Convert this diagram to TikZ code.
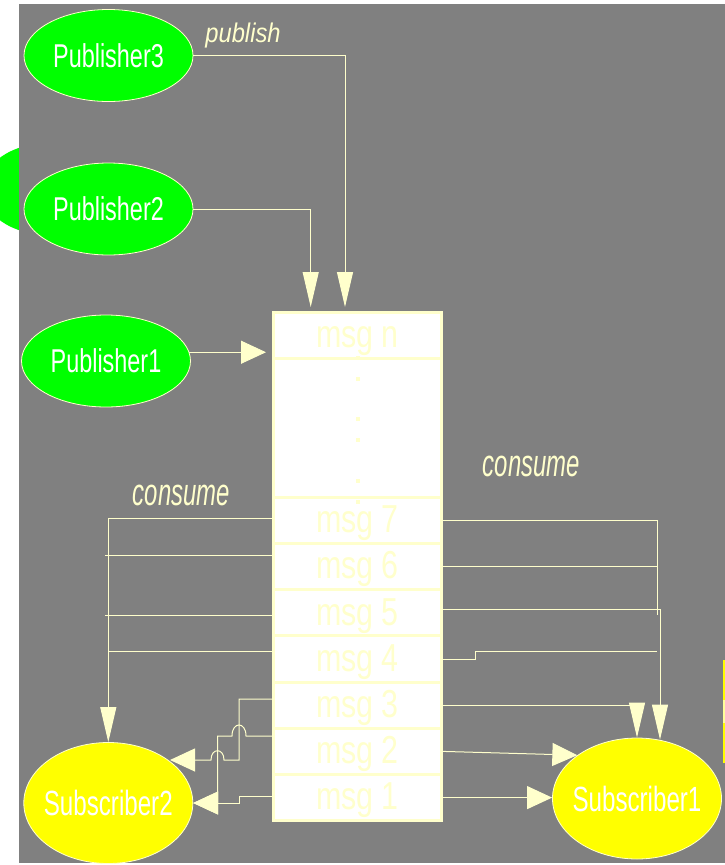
\documentclass[tikz,border=0pt]{standalone}
\usepackage{fontspec}
\setmainfont{Liberation Sans}
\usepackage{graphicx}
\usetikzlibrary{shapes.geometric,arrows.meta,calc}

\definecolor{bggray}{HTML}{808080}
\definecolor{pubgreen}{HTML}{00FF00}
\definecolor{subyellow}{HTML}{FFFF00}
\definecolor{cream}{HTML}{FFFFCC}
\definecolor{paleyellow}{HTML}{FFFF99}

% narrow, tall lettering: horizontal scale, size, text
\newcommand\lbltext[3]{\scalebox{#1}[1]{\fontsize{#2}{#2}\selectfont #3}}
% same, but taking no width, so an ellipse keeps its own size
\newcommand\ovaltext[3]{\makebox[0pt]{\lbltext{#1}{#2}{#3}}}

\begin{document}
\begin{tikzpicture}[x=1pt,y=-1pt,
  pub/.style={ellipse,fill=pubgreen,draw=cream,line width=0.8pt,
    minimum width=169pt,minimum height=92pt,inner sep=0pt,text=white},
  sub/.style={ellipse,fill=subyellow,draw=cream,line width=0.8pt,
    minimum width=169pt,minimum height=121pt,inner sep=0pt,text=white},
  cell/.style={rectangle,fill=white,draw=cream,line width=3pt,
    minimum width=168pt,minimum height=46.2pt,inner sep=0pt,text=cream,
    text height=30pt,text depth=5.4pt},
  flow/.style={draw=cream,line width=1pt},
  varr/.style={flow,-{Triangle[length=35pt,width=16pt]}},
  harr/.style={flow,-{Triangle[length=25pt,width=23pt]}},
  verb/.style={text=cream,anchor=base,inner sep=0pt,font=\itshape}
]
\useasboundingbox (0,0) rectangle (725,865);

% page, stray shapes at the edges, grey canvas
\fill[white] (0,0) rectangle (725,865);
\fill[pubgreen] (49,189) ellipse [x radius=67, y radius=46];
\fill[bggray] (19,4) rectangle (725,863);
\fill[subyellow] (722.5,660) rectangle (725,700);
\fill[paleyellow] (722.5,700) rectangle (725,723);
\fill[subyellow] (722.5,723) rectangle (725,763);

% publishers and subscribers
\node[pub] (p3) at (108.5,55.5) {\ovaltext{0.71}{33}{Publisher3}};
\node[pub] (p2) at (108.5,209) {\ovaltext{0.71}{33}{Publisher2}};
\node[pub] (p1) at (106,361) {\ovaltext{0.71}{33}{Publisher1}};
\node[sub] (s2) at (108.3,803) {\ovaltext{0.69}{35}{Subscriber2}};
\node[sub] (s1) at (637,798.5) {\ovaltext{0.69}{35}{Subscriber1}};

% message queue
\node[cell] (mn) at (357.5,335.6) {\lbltext{0.78}{39}{msg n}};
\node[cell,minimum height=138.6pt] (gap) at (357.5,428) {};
\node[cell] (m7) at (357.5,520.4) {\lbltext{0.78}{39}{msg 7}};
\node[cell] (m6) at (357.5,566.6) {\lbltext{0.78}{39}{msg 6}};
\node[cell] (m5) at (357.5,612.8) {\lbltext{0.78}{39}{msg 5}};
\node[cell] (m4) at (357.5,659.0) {\lbltext{0.78}{39}{msg 4}};
\node[cell] (m3) at (357.5,705.2) {\lbltext{0.78}{39}{msg 3}};
\node[cell] (m2) at (357.5,751.4) {\lbltext{0.78}{39}{msg 2}};
\node[cell] (m1) at (357.5,797.6) {\lbltext{0.78}{39}{msg 1}};

% vertical ellipsis between msg n and msg 7
\foreach \y in {356,377.3,416.7,438.3,479,500}
  \fill[cream] (355.7,\y) rectangle +(4,4);

% publish connectors
\coordinate (in3) at (345,307);
\coordinate (in2) at (310.7,307);
\coordinate (in1) at (266,352);
\draw[varr] (p3.east) -| (in3);
\draw[varr] (p2.east) -| (in2);
\draw[harr] (p1.6) -- (p1.6 -| in1);

% consume connectors towards Subscriber2
\coordinate (lt) at (105,0);
\draw[varr] ($(m7.west)+(0,-2.1)$) -| (s2.north);
\draw[flow] ($(m6.west)+(0,-11.6)$) coordinate (a6) -- (a6 -| lt);
\draw[flow] ($(m5.west)+(0,2.2)$) coordinate (a5) -- (a5 -| lt);
\draw[flow] ($(m4.west)+(0,-8)$) coordinate (a4) -- (a4 -| s2.north);
\coordinate (t3) at (170,760);
\draw[harr] ($(m3.west)+(0,-6.2)$) -- (239,699) -- (239,760) -- (224,760)
  .. controls (224,747.6) and (211,747.6) .. (211,760) -- (t3);
\draw[harr] ($(m2.west)+(0,-15.4)$) -- (246,736)
  .. controls (246,721.3) and (232,721.3) .. (232,736) -- (217.7,736)
  -- (217.7,803) -- (s2.east);
\draw[harr] ($(m1.west)+(0,-1.6)$) -- (239,796) -- (239,803) -- (s2.east);

% consume connectors towards Subscriber1
\coordinate (rt) at (657,615);
\coordinate (j4) at (475,651);
\draw[flow] (m7.east) -| (rt);
\draw[flow] (m6.east) -- (m6.east -| rt);
\draw[varr] ($(m5.east)+(0,-3.5)$) -| ($(s1.north)+(23,2)$);
\draw[flow] (m4.east) -| (j4) -- (j4 -| rt);
\draw[varr] (m3.east) -| (s1.north);
\draw[harr] (m2.east) -- (s1.144);
\draw[harr] (m1.east) -- (m1.east -| s1.west);

% verbs
\node[verb] (publ) at (243,42) {\lbltext{0.88}{27}{publish}};
\node[verb] (consl) at (181.4,505) {\lbltext{0.63}{38}{consume}};
\node[verb] (consr) at (531.5,476) {\lbltext{0.63}{38}{consume}};
\end{tikzpicture}
\end{document}
